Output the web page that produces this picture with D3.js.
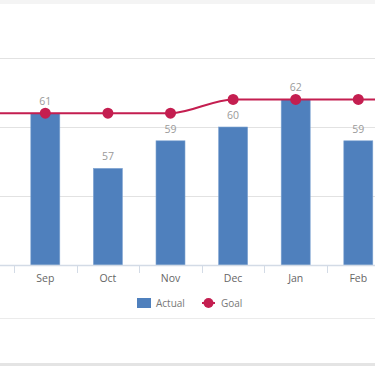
<!DOCTYPE html>
<html lang="en">
<head>
<meta charset="utf-8">
<title>Actual vs Goal</title>
<script src="https://cdn.jsdelivr.net/npm/d3@7/dist/d3.min.js"></script>
<style>
  body { margin: 0; background: #fff; }
  text { font-family: "Open Sans", "Liberation Sans", sans-serif; }
</style>
</head>
<body>
<script>

var months = ["Aug", "Sep", "Oct", "Nov", "Dec", "Jan", "Feb", "Mar"];
var actual = [null, 61, 57, 59, 60, 62, 59, null];
var goal   = [61, 61, 61, 61, 62, 62, 62, 62];
var yTicks = [50, 55, 60, 65];

var width = 375, height = 366;

var svg = d3.select("body").append("svg")
            .attr("width", width)
            .attr("height", height);

// frame bands
svg.append("rect").attr("x", 0).attr("y", 0).attr("width", width).attr("height", 4).attr("fill", "#f4f4f4");
svg.append("rect").attr("x", 0).attr("y", 363).attr("width", width).attr("height", 3).attr("fill", "#e4e4e4");
svg.append("line").attr("x1", 0).attr("x2", width).attr("y1", 318.5).attr("y2", 318.5)
   .attr("stroke", "#ebebeb").attr("stroke-width", 1);

var x = d3.scaleBand()
          .domain(months)
          .range([-48.6, -48.6 + months.length * 62.6])
          .padding(0);

var y = d3.scaleLinear()
          .domain([50, 65])
          .range([265, 58]);

// gridlines
svg.selectAll("line.grid")
   .data(yTicks.slice(1))
   .enter()
   .append("line")
   .attr("class", "grid")
   .attr("x1", 0).attr("x2", width)
   .attr("y1", function(d) { return Math.round(y(d)) + 0.5; })
   .attr("y2", function(d) { return Math.round(y(d)) + 0.5; })
   .attr("stroke", "#e2e2e2");

// bars
var barW = 29;
var data = months.map(function(m, i) { return { m: m, a: actual[i], g: goal[i] }; });
var shown = data.filter(function(d) { return d.a != null; });

svg.selectAll("rect.bar")
   .data(shown)
   .enter()
   .append("rect")
   .attr("class", "bar")
   .attr("x", function(d) { return x(d.m) + x.bandwidth() / 2 - barW / 2; })
   .attr("y", function(d) { return y(d.a); })
   .attr("width", barW)
   .attr("height", function(d) { return y(50) - y(d.a); })
   .attr("fill", "#4f80bd")
   .attr("stroke", "#7fa3d1")
   .attr("stroke-width", 0.6);

// value labels
svg.selectAll("text.val")
   .data(shown)
   .enter()
   .append("text")
   .attr("class", "val")
   .attr("x", function(d) { return x(d.m) + x.bandwidth() / 2; })
   .attr("y", function(d) { return y(d.a) - 8; })
   .attr("text-anchor", "middle")
   .attr("font-size", 10.5)
   .attr("fill", "#9a9a9a")
   .text(function(d) { return d.a; });

// x axis
svg.append("line")
   .attr("x1", 0).attr("x2", width)
   .attr("y1", 265.5).attr("y2", 265.5)
   .attr("stroke", "#d3dbe6").attr("stroke-width", 1.5);

svg.selectAll("line.tick")
   .data(months)
   .enter()
   .append("line")
   .attr("class", "tick")
   .attr("x1", function(d) { return Math.round(x(d)) + 0.5; })
   .attr("x2", function(d) { return Math.round(x(d)) + 0.5; })
   .attr("y1", 265).attr("y2", 273)
   .attr("stroke", "#d3dbe6");

// month labels (only the months in view)
svg.selectAll("text.month")
   .data(shown)
   .enter()
   .append("text")
   .attr("class", "month")
   .attr("x", function(d) { return x(d.m) + x.bandwidth() / 2; })
   .attr("y", 282)
   .attr("text-anchor", "middle")
   .attr("font-size", 10.5)
   .attr("fill", "#666")
   .text(function(d) { return d.m; });

// goal line
var line = d3.line()
             .x(function(d) { return x(d.m) + x.bandwidth() / 2; })
             .y(function(d) { return y(d.g); })
             .curve(d3.curveMonotoneX);

svg.append("path")
   .datum(data)
   .attr("d", line)
   .attr("fill", "none")
   .attr("stroke", "#c41e50")
   .attr("stroke-width", 2);

svg.selectAll("circle.goal")
   .data(data)
   .enter()
   .append("circle")
   .attr("class", "goal")
   .attr("cx", function(d) { return x(d.m) + x.bandwidth() / 2; })
   .attr("cy", function(d) { return y(d.g); })
   .attr("r", 5.5)
   .attr("fill", "#c41e50");

// legend
var lg = svg.append("g").attr("transform", "translate(137,303)");
lg.append("rect").attr("x", 0).attr("y", -5).attr("width", 14).attr("height", 10).attr("fill", "#4f80bd");
lg.append("text").attr("x", 19).attr("y", 4).attr("font-size", 10).attr("fill", "#777").text("Actual");
lg.append("line").attr("x1", 65).attr("x2", 78).attr("y1", 0).attr("y2", 0)
  .attr("stroke", "#c41e50").attr("stroke-width", 2);
lg.append("circle").attr("cx", 71.5).attr("cy", 0).attr("r", 5).attr("fill", "#c41e50");
lg.append("text").attr("x", 84).attr("y", 4).attr("font-size", 10).attr("fill", "#777").text("Goal");

</script>
</body>
</html>
